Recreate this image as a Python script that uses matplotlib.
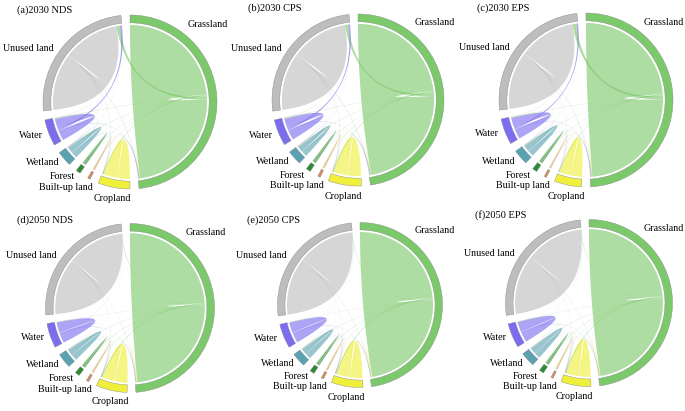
import numpy as np
import matplotlib.pyplot as plt
from matplotlib.patches import Wedge, Polygon

plt.rcParams['font.family'] = ['Liberation Serif', 'DejaVu Serif']

# land use classes, clockwise from the top
sectors = ['Grassland', 'Cropland', 'Built-up land', 'Forest', 'Wetland', 'Water', 'Unused land']
ring_colors = ['#7cc96b', '#f0f03c', '#d98a5e', '#2e8b34', '#5aa2b2', '#7b6cf0', '#bdbdbd']

titles = ['(a)2030 NDS', '(b)2030 CPS', '(c)2030 EPS',
          '(d)2050 NDS', '(e)2050 CPS', '(f)2050 EPS']

# transfer matrices, row = from, column = to (order as in sectors)
nds_2030 = [[84.0, 0.5, 0.2, 0.2, 0.3, 0.3, 2.5],
            [0.4, 9.5, 0.3, 0.1, 0.1, 0.1, 0.1],
            [0.05, 0.05, 0.5, 0, 0, 0, 0],
            [0.1, 0.05, 0.05, 1.2, 0.05, 0, 0],
            [0.3, 0.1, 0, 0.05, 4.2, 0.3, 0.1],
            [0.3, 0.1, 0, 0, 0.3, 7.25, 1.5],
            [0.5, 0.4, 0.05, 0.05, 0.2, 0.3, 42.0]]

cps_2030 = [[83.0, 0.6, 0.2, 0.2, 0.3, 0.3, 2.3],
            [0.4, 10.0, 0.3, 0.1, 0.15, 0.1, 0.1],
            [0.05, 0.05, 0.5, 0, 0, 0, 0],
            [0.1, 0.05, 0.05, 1.2, 0.05, 0, 0],
            [0.3, 0.1, 0, 0.05, 4.0, 0.3, 0.1],
            [0.3, 0.1, 0, 0, 0.3, 7.35, 1.4],
            [0.5, 0.4, 0.05, 0.05, 0.2, 0.3, 43.0]]

eps_2030 = [[85.5, 0.4, 0.15, 0.25, 0.3, 0.3, 2.8],
            [0.5, 8.0, 0.25, 0.1, 0.1, 0.1, 0.1],
            [0.05, 0.05, 0.45, 0, 0, 0, 0],
            [0.1, 0.05, 0.05, 1.2, 0.05, 0, 0],
            [0.3, 0.1, 0, 0.05, 4.2, 0.3, 0.1],
            [0.3, 0.1, 0, 0, 0.3, 7.25, 1.2],
            [0.5, 0.3, 0.05, 0.05, 0.2, 0.3, 42.5]]

nds_2050 = [[86.0, 0.6, 0.2, 0.3, 0.3, 0.2, 0.4],
            [0.8, 9.2, 0.3, 0.1, 0.1, 0.1, 0.05],
            [0.05, 0.05, 0.5, 0, 0, 0, 0],
            [0.1, 0.1, 0.05, 1.2, 0.05, 0, 0],
            [0.2, 0.2, 0, 0.05, 4.4, 0.1, 0.05],
            [0.2, 0.2, 0, 0, 0.2, 7.85, 0.1],
            [0.3, 0.3, 0.05, 0.05, 0.1, 0.1, 43.5]]

cps_2050 = [[84.0, 0.7, 0.2, 0.3, 0.3, 0.2, 0.3],
            [0.8, 9.6, 0.3, 0.1, 0.15, 0.1, 0.05],
            [0.05, 0.05, 0.5, 0, 0, 0, 0],
            [0.1, 0.1, 0.05, 1.2, 0.05, 0, 0],
            [0.2, 0.2, 0, 0.05, 4.3, 0.1, 0.05],
            [0.2, 0.2, 0, 0, 0.2, 8.0, 0.1],
            [0.3, 0.3, 0.05, 0.05, 0.1, 0.1, 45.0]]

eps_2050 = [[84.5, 0.6, 0.2, 0.3, 0.3, 0.2, 0.3],
            [0.7, 9.0, 0.3, 0.1, 0.1, 0.1, 0.05],
            [0.05, 0.05, 0.45, 0, 0, 0, 0],
            [0.1, 0.1, 0.05, 1.2, 0.05, 0, 0],
            [0.2, 0.2, 0, 0.05, 4.4, 0.1, 0.05],
            [0.2, 0.2, 0, 0, 0.2, 7.9, 0.1],
            [0.3, 0.3, 0.05, 0.05, 0.1, 0.1, 45.5]]

panels = [nds_2030, cps_2030, eps_2030, nds_2050, cps_2050, eps_2050]

# panel geometry in pixels (centre, ring radius, title position)
W, H = 685, 411
centers = [(130, 102), (358, 100), (586, 100), (130, 308), (360, 305), (589, 303)]
radii = [87, 86, 87, 84.5, 82.5, 83.5]
title_xy = [(17, 10), (248, 8), (477, 8), (17, 220), (247, 220), (475, 215)]

GAP = 6.0
R_LINK = 0.885


def pt(a, r=R_LINK):
    t = np.radians(a)
    return np.array([r * np.cos(t), r * np.sin(t)])


def arc(a1, a2, r=R_LINK, n=40):
    t = np.radians(np.linspace(a1, a2, n))
    return np.c_[r * np.cos(t), r * np.sin(t)]


def bez(p0, p2, n=50):
    t = np.linspace(0, 1, n)[:, None]
    return (1 - t) ** 2 * p0 + t ** 2 * p2   # control point at the centre


def chord(ax, mat):
    m = np.array(mat, dtype=float)
    n = len(m)
    scale = (360 - n * GAP) / (m.sum(1) + m.sum(0)).sum()
    ang = 90.0
    out_span, in_span, sec = {}, {}, []
    for i in range(n):
        s = ang
        order = [i] + [j for j in range(n) if j != i]
        for j in order:
            out_span[(i, j)] = (ang, ang - m[i, j] * scale)
            ang -= m[i, j] * scale
        for j in order:
            in_span[(j, i)] = (ang, ang - m[j, i] * scale)
            ang -= m[j, i] * scale
        sec.append((s, ang))
        ang -= GAP

    links = [(m[i, j], i, j) for i in range(n) for j in range(n) if m[i, j] > 0]
    links.sort(reverse=True)
    for v, i, j in links:
        a1, a2 = out_span[(i, j)]
        b1, b2 = in_span[(i, j)]
        path = np.vstack([arc(a1, a2), bez(pt(a2), pt(b1)),
                          arc(b1, b2), bez(pt(b2), pt(a1))])
        ax.add_patch(Polygon(path, closed=True, facecolor=ring_colors[i],
                             edgecolor='none', alpha=0.62))

    for i, (s, e) in enumerate(sec):
        ax.add_patch(Wedge((0, 0), 1.0, e, s, width=0.09, facecolor=ring_colors[i],
                           edgecolor='#888888', linewidth=0.3))
        mid = (s + e) / 2
        if i == 0:
            p = pt(52, 1.07)
            ax.text(p[0], p[1], sectors[i], ha='left', va='bottom', fontsize=7.2)
        elif i == 1:
            p = pt(mid, 1.08)
            ax.text(p[0], p[1], sectors[i], ha='center', va='top', fontsize=7.2)
        else:
            a = mid + {2: 5, 6: 4}.get(i, 0)
            p = pt(a, 1.07)
            ax.text(p[0], p[1], sectors[i], ha='right', va='center', fontsize=7.2)


fig = plt.figure(figsize=(W / 100, H / 100), dpi=100)
for k, mat in enumerate(panels):
    cx, cy = centers[k]
    R = 1.3 * radii[k]
    ax = fig.add_axes([(cx - R) / W, 1 - (cy + R) / H, 2 * R / W, 2 * R / H])
    ax.set_xlim(-1.3, 1.3)
    ax.set_ylim(-1.3, 1.3)
    ax.axis('off')
    chord(ax, mat)
    tx, ty = title_xy[k]
    fig.text(tx / W, 1 - ty / H, titles[k], ha='left', va='center', fontsize=7.5)

fig.savefig('out.png', dpi=100)
